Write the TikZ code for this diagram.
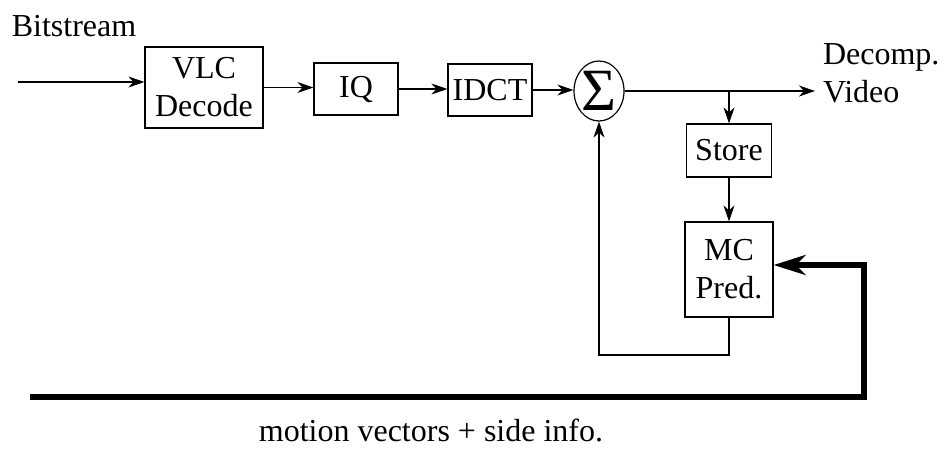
\documentclass[tikz,border=0pt]{standalone}
\usepackage{fontspec}
\setmainfont{Liberation Serif}
\usetikzlibrary{shapes.geometric,arrows.meta}

\begin{document}
\begin{tikzpicture}[x=0.5pt,y=-0.5pt,
    font=\fontsize{16}{19}\selectfont,
    blk/.style={draw,line width=0.6pt,align=center,inner sep=1pt},
    sig/.style={line width=0.6pt,-{Stealth[length=8pt,width=5.5pt,inset=2.5pt]}},
    fat/.style={line width=2.8pt,-{Stealth[length=16pt,width=10pt,inset=5pt]}}]
    \useasboundingbox (0,0) rectangle (942,450);
    % upper chain
    \node (bits) at (74,26) {Bitstream};
    \coordinate (in) at (18,82);
    \node[blk,minimum width=59pt,minimum height=40.5pt] (vlc) at (204,87.5) {VLC\\Decode};
    \node[blk,minimum width=42pt,minimum height=26pt] (iq) at (356,89) {IQ};
    \node[blk,minimum width=42pt,minimum height=26pt] (idct) at (490,90) {IDCT};
    \node[draw,ellipse,line width=0.6pt,minimum width=25pt,minimum height=30pt,inner sep=0pt,
          label={[font=\fontsize{30}{30}\selectfont,inner sep=0pt]center:Σ}] (sum) at (599,91) {};
    \node[align=left,anchor=west] (vid) at (816,73) {Decomp.\\Video};
    \coordinate (tap) at (729,91);
    \draw[sig] (in) -- (in -| vlc.west);
    \draw[sig] (vlc.east) -- (vlc.east -| iq.west);
    \draw[sig] (iq.east) -- (iq.east -| idct.west);
    \draw[sig] (idct.east) -- (idct.east -| sum.west);
    \draw[sig] (sum.east) -- (815,91);
    % prediction loop
    \node[blk,minimum width=42.5pt,minimum height=26.5pt] (store) at (729,150.5) {Store};
    \node[blk,minimum width=44pt,minimum height=47.5pt] (mc) at (729,269.5) {MC\\Pred.};
    \draw[sig] (tap) -- (store);
    \draw[sig] (store) -- (mc);
    \draw[sig] (mc.south) -- (mc.south |- 0,355) -| (sum.south);
    % side information
    \coordinate (mv) at (30,397);
    \coordinate (mvin) at (864,265);
    \draw[fat] (mv) -| (mvin) -- (mvin -| mc.east);
    \node (side) at (431,430) {motion vectors + side info.};
\end{tikzpicture}
\end{document}
